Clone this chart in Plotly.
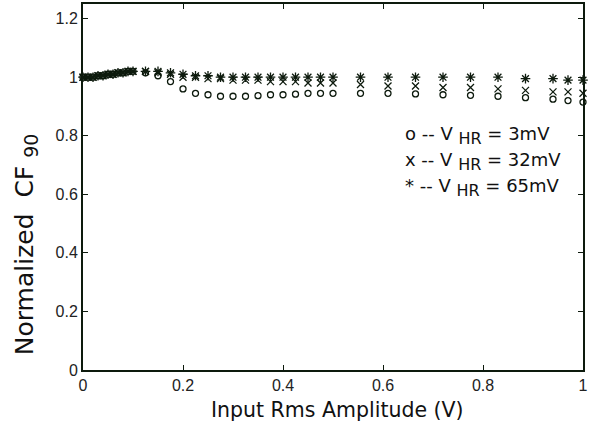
import plotly.graph_objects as go

x_vals = [0.0, 0.01, 0.02, 0.03, 0.04, 0.05, 0.06, 0.07, 0.08, 0.09, 0.10, 0.125, 0.15, 0.175,
          0.20, 0.225, 0.25, 0.275, 0.30, 0.325, 0.35, 0.375, 0.40, 0.425, 0.45, 0.475,
          0.50, 0.555, 0.61, 0.665, 0.72, 0.775, 0.83, 0.885, 0.94, 0.97, 1.0]
cf_3mV = [1.00, 1.00, 1.00, 1.005, 1.005, 1.01, 1.01, 1.015, 1.015, 1.02, 1.02, 1.015, 1.005, 0.985,
          0.96, 0.945, 0.94, 0.935, 0.935, 0.935, 0.937, 0.94, 0.94, 0.942, 0.945, 0.945,
          0.945, 0.945, 0.945, 0.943, 0.94, 0.938, 0.935, 0.93, 0.925, 0.92, 0.915]
cf_32mV = [1.00, 1.00, 1.00, 1.005, 1.005, 1.01, 1.01, 1.015, 1.015, 1.02, 1.02, 1.02, 1.015, 1.01,
           1.00, 1.00, 0.995, 0.995, 0.99, 0.99, 0.99, 0.985, 0.985, 0.985, 0.98, 0.98,
           0.98, 0.975, 0.97, 0.97, 0.965, 0.965, 0.96, 0.955, 0.95, 0.95, 0.945]
cf_65mV = [1.00, 1.00, 1.00, 1.005, 1.005, 1.01, 1.01, 1.015, 1.015, 1.02, 1.02, 1.02, 1.02, 1.015,
           1.01, 1.005, 1.005, 1.00, 1.00, 1.00, 1.00, 1.00, 1.00, 1.00, 1.00, 1.00,
           1.00, 1.00, 1.00, 1.00, 1.00, 1.00, 1.00, 0.995, 0.995, 0.99, 0.99]

legend_labels = ["o -- V", "x -- V", "* -- V"]
legend_values = ["3mV", "32mV", "65mV"]

ink = "#0d1a0d"
txt = "#111111"
fig = go.Figure()
for ys, sym, sz in [(cf_3mV, "circle-open", 6), (cf_32mV, "x-thin-open", 7), (cf_65mV, "asterisk-open", 8)]:
    fig.add_trace(go.Scatter(
        x=x_vals, y=ys, mode="markers",
        marker=dict(symbol=sym, size=sz, color=ink, line=dict(color=ink, width=1.3)),
        showlegend=False, cliponaxis=False,
    ))

# plot area in pixels: x 83..583, y 4..369.6
def px_x(p):
    return (p - 83) / 500.0

def px_y(p):
    return (369.6 - p) / 365.6

for i, (lab, val) in enumerate(zip(legend_labels, legend_values)):
    fig.add_annotation(
        x=px_x(403), y=px_y(135 + i * 26), xref="paper", yref="paper",
        text=f"{lab} <sub><span style='font-size:16px'>HR</span></sub> = {val}",
        showarrow=False, xanchor="left", yanchor="middle",
        font=dict(family="DejaVu Sans", size=18, color=txt))

fig.add_annotation(x=px_x(337), y=px_y(410), xref="paper", yref="paper",
                   text="Input Rms Amplitude (V)", showarrow=False,
                   xanchor="center", yanchor="middle",
                   font=dict(family="DejaVu Sans", size=20.5, color=txt))
fig.add_annotation(x=px_x(26), y=px_y(244), xref="paper", yref="paper",
                   text="Normalized  CF <sub><span style='font-size:19px'>90</span></sub>",
                   showarrow=False, textangle=-90,
                   xanchor="center", yanchor="middle",
                   font=dict(family="DejaVu Sans", size=25, color=txt))

axis_common = dict(showline=True, linecolor=ink, linewidth=2, mirror="ticks", ticks="inside",
                   ticklen=5, tickwidth=1, tickcolor=ink, showgrid=False, zeroline=False,
                   tickfont=dict(family="Liberation Sans, Arial", size=16, color="#222"))

fig.update_xaxes(range=[0, 1], tickvals=[0, 0.2, 0.4, 0.6, 0.8, 1],
                 ticktext=["0", "0.2", "0.4", "0.6", "0.8", "1"], **axis_common)
fig.update_yaxes(range=[0, 1.25], tickvals=[0, 0.2, 0.4, 0.6, 0.8, 1, 1.2],
                 ticktext=["0", "0.2", "0.4", "0.6", "0.8", "1", "1.2"], **axis_common)

fig.update_layout(width=592, height=428, margin=dict(l=83, r=9, t=4, b=58.4, autoexpand=False),
                  plot_bgcolor="white", paper_bgcolor="white")
fig.write_html("out.html", config={"displayModeBar": False},
               post_script="document.body.style.margin='0';document.body.style.overflow='hidden';")
